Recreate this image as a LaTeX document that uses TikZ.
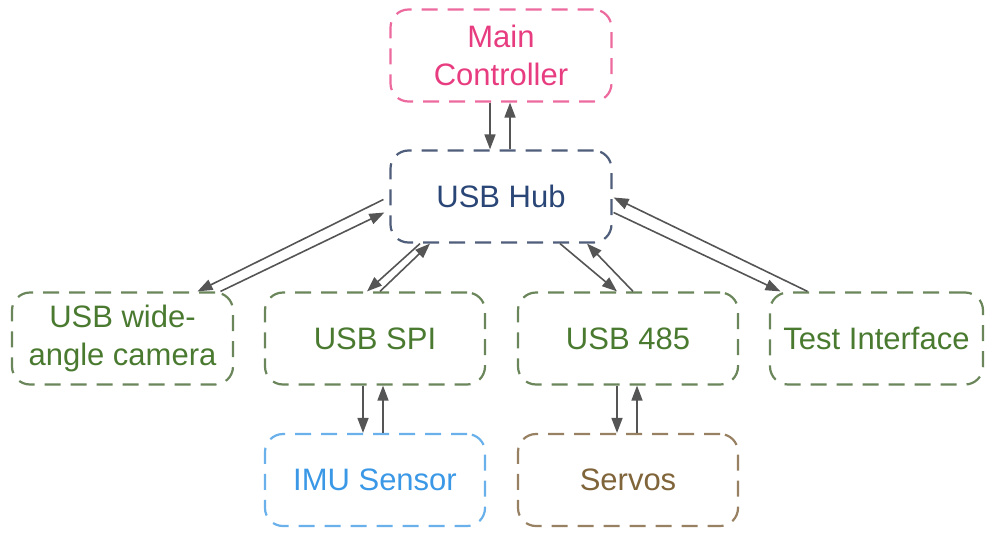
\documentclass[tikz,border=0pt]{standalone}
\usepackage{fontspec}
\setmainfont{Liberation Sans}
\usetikzlibrary{arrows.meta}
\definecolor{cpink}{HTML}{E83C80}
\definecolor{cpinkb}{HTML}{EC6A9E}
\definecolor{cnavy}{HTML}{2A4676}
\definecolor{cnavyb}{HTML}{4F5E7A}
\definecolor{cgreen}{HTML}{4A7A30}
\definecolor{cgreenb}{HTML}{6A865A}
\definecolor{cblue}{HTML}{3A98E6}
\definecolor{cblueb}{HTML}{6AB0EA}
\definecolor{cbrown}{HTML}{80643A}
\definecolor{cbrownb}{HTML}{978162}
\definecolor{carrow}{HTML}{555555}
\tikzset{
  box/.style={draw, rounded corners=18pt, dash pattern=on 16pt off 10pt, line width=2.2pt,
    inner sep=0pt, minimum width=221pt, minimum height=92pt, align=center,
    font=\fontsize{31}{38}\selectfont},
  link/.style={draw=carrow, line width=1.6pt, -{Triangle[length=15pt,width=11pt]}, fill=carrow}
}
\begin{document}
\begin{tikzpicture}[x=1pt,y=-1pt]
\useasboundingbox (0,0) rectangle (985,533);
\node[box, draw=cpinkb, text=cpink] (mc) at (501,55.5) {Main\\Controller};
\node[box, draw=cnavyb, text=cnavy] (hub) at (501,196.5) {USB Hub};
\node[box, draw=cgreenb, text=cgreen] (cam) at (122.5,338.5) {USB wide-\\angle camera};
\node[box, draw=cgreenb, text=cgreen, minimum width=220pt] (spi) at (375,338.5) {USB SPI};
\node[box, draw=cgreenb, text=cgreen, minimum width=220pt] (r485) at (628,338.5) {USB 485};
\node[box, draw=cgreenb, text=cgreen, minimum width=213pt] (test) at (876.5,338.5) {Test Interface};
\node[box, draw=cblueb, text=cblue, minimum width=220pt] (imu) at (375,480) {IMU Sensor};
\node[box, draw=cbrownb, text=cbrown, minimum width=220pt] (servo) at (628,480) {Servos};

% Main controller <-> hub
\draw[link] ([xshift=-11pt]mc.south) -- ([xshift=-11pt]hub.north);
\draw[link] ([xshift=9pt]hub.north) -- ([xshift=9pt]mc.south);
% hub <-> camera
\draw[link] ([xshift=-6pt,yshift=-3pt]hub.west) -- ([xshift=75pt]cam.north);
\draw[link] ([xshift=98pt]cam.north) -- ([xshift=-5pt,yshift=-16pt]hub.west);
% hub <-> SPI
\draw[link] ([xshift=-81pt]hub.south) -- ([xshift=-8pt]spi.north);
\draw[link] ([xshift=5pt]spi.north) -- ([xshift=-71pt]hub.south);
% hub <-> 485
\draw[link] ([xshift=59pt]hub.south) -- ([xshift=-11pt]r485.north);
\draw[link] ([xshift=5pt]r485.north) -- ([xshift=86pt]hub.south);
% hub <-> test
\draw[link] ([xshift=1pt,yshift=-16pt]hub.east) -- ([xshift=-96pt]test.north);
\draw[link] ([xshift=-69pt]test.north) -- ([xshift=1pt,yshift=-1pt]hub.east);
% SPI <-> IMU
\draw[link] ([xshift=-12pt]spi.south) -- ([xshift=-12pt]imu.north);
\draw[link] ([xshift=8pt]imu.north) -- ([xshift=8pt]spi.south);
% 485 <-> servos
\draw[link] ([xshift=-11pt]r485.south) -- ([xshift=-11pt]servo.north);
\draw[link] ([xshift=9pt]servo.north) -- ([xshift=9pt]r485.south);
\end{tikzpicture}
\end{document}
